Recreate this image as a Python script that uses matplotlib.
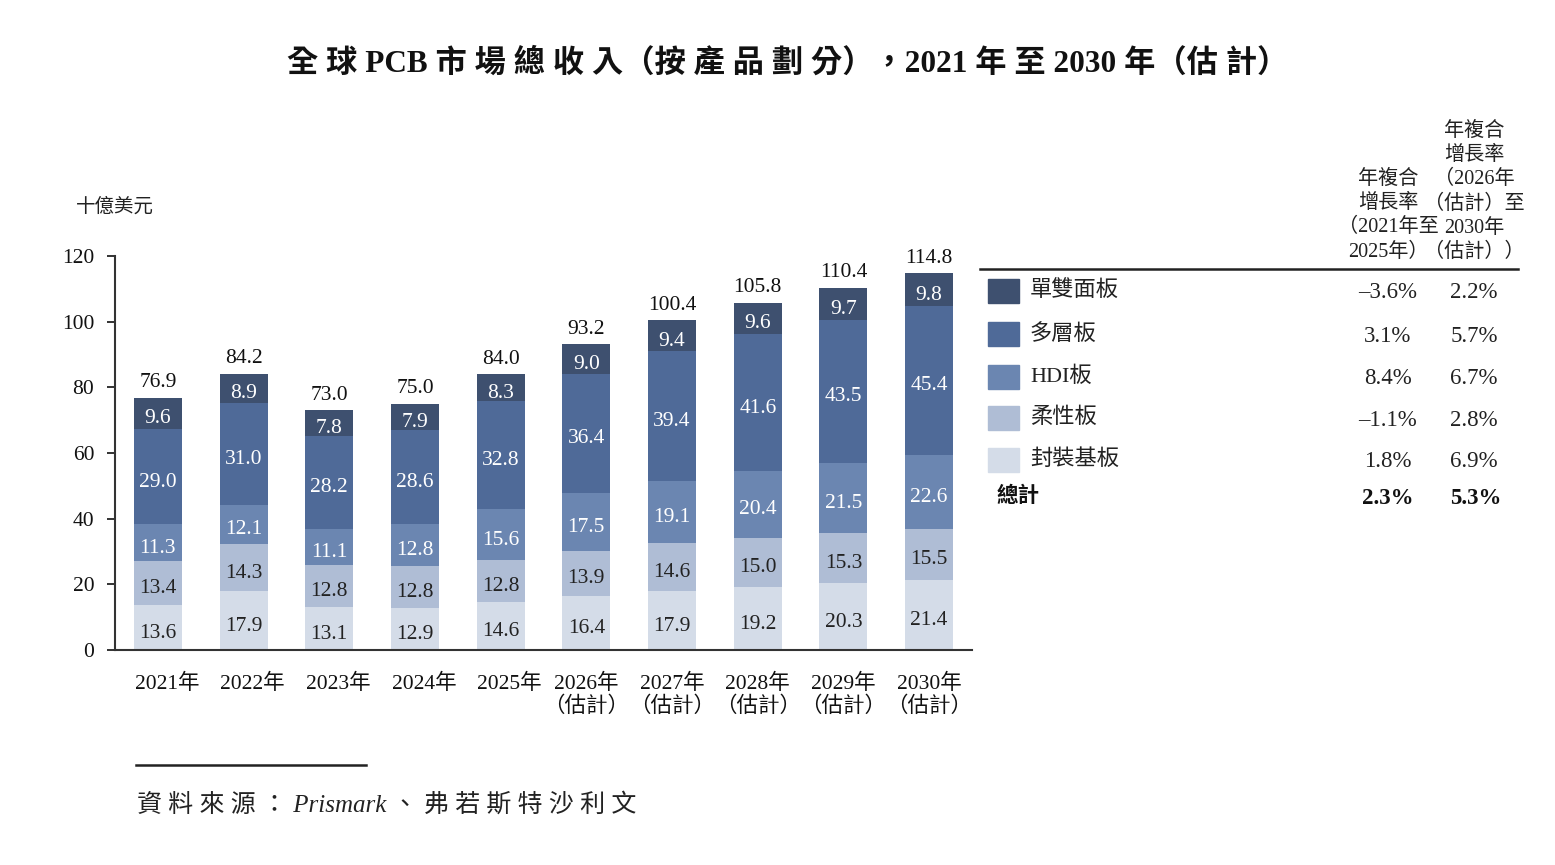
import matplotlib
matplotlib.use("Agg")
import matplotlib.pyplot as plt
import matplotlib.transforms as mtransforms
import numpy as np

years = ["2021年", "2022年", "2023年", "2024年", "2025年",
         "2026年\n（估計）", "2027年\n（估計）", "2028年\n（估計）", "2029年\n（估計）", "2030年\n（估計）"]
series_names = ["封裝基板", "柔性板", "HDI板", "多層板", "單雙面板"]
package = [13.6, 17.9, 13.1, 12.9, 14.6, 16.4, 17.9, 19.2, 20.3, 21.4]
flex = [13.4, 14.3, 12.8, 12.8, 12.8, 13.9, 14.6, 15.0, 15.3, 15.5]
hdi = [11.3, 12.1, 11.1, 12.8, 15.6, 17.5, 19.1, 20.4, 21.5, 22.6]
multilayer = [29.0, 31.0, 28.2, 28.6, 32.8, 36.4, 39.4, 41.6, 43.5, 45.4]
single_double = [9.6, 8.9, 7.8, 7.9, 8.3, 9.0, 9.4, 9.6, 9.7, 9.8]
totals = [76.9, 84.2, 73.0, 75.0, 84.0, 93.2, 100.4, 105.8, 110.4, 114.8]

legend_names = ["單雙面板", "多層板", "HDI板", "柔性板", "封裝基板"]
cagr_2125 = ["–3.6%", "3.1%", "8.4%", "–1.1%", "1.8%"]
cagr_2630 = ["2.2%", "5.7%", "6.7%", "2.8%", "6.9%"]
total_cagr = ["2.3%", "5.3%"]

colors = {"單雙面板": "#3e506f", "多層板": "#4f6a98", "HDI板": "#6b86b1",
          "柔性板": "#afbdd5", "封裝基板": "#d4dce8"}
label_colors = {"單雙面板": "white", "多層板": "white", "HDI板": "white",
                "柔性板": "#222222", "封裝基板": "#222222"}

FAM = ["Liberation Serif", "Noto Sans CJK TC"]
plt.rcParams["font.family"] = FAM

W, H = 1555, 865
fig = plt.figure(figsize=(W / 100, H / 100), dpi=100)

def P(x, y):
    return x / W, 1 - y / H

ax = fig.add_axes([115 / W, 1 - 650 / H, (972 - 115) / W, (650 - 256) / H])
x = np.arange(len(years))
bw = 0.56
series = [package, flex, hdi, multilayer, single_double]
bottom = np.zeros(len(years))
for name, vals in zip(series_names, series):
    vals = np.array(vals)
    ax.bar(x, vals, bw, bottom=bottom, color=colors[name], edgecolor="none")
    for xi, b, v in zip(x, bottom, vals):
        ax.text(xi, b + v / 2 - 1.7, f"{v:.1f}", ha="center", va="center",
                fontsize=15.5, color=label_colors[name])
    bottom = bottom + vals
for xi, t in zip(x, totals):
    ax.text(xi, t + 1.6, f"{t:.1f}", ha="center", va="bottom", fontsize=15.5, color="#111111")

ax.set_xlim(-0.5, len(years) - 0.5)
ax.set_ylim(0, 120)
ax.set_yticks(range(0, 121, 20))
ax.set_xticks(x)
ax.set_xticklabels(years, fontsize=15.5, linespacing=1.15)
ax.tick_params(axis="x", length=0, pad=17, colors="#111111")
ax.tick_params(axis="y", length=6, width=1.2, pad=9, labelsize=15.5, colors="#111111")
for lab in ax.get_yticklabels():
    lab.set_horizontalalignment("right")
shift = mtransforms.ScaledTranslation(9 / 100, 0, fig.dpi_scale_trans)
for lab in ax.get_xticklabels()[:5]:
    lab.set_transform(lab.get_transform() + shift)
for s in ["top", "right"]:
    ax.spines[s].set_visible(False)
for s in ["left", "bottom"]:
    ax.spines[s].set_linewidth(1.5)
    ax.spines[s].set_color("#333333")

# y unit label
fig.text(*P(76, 207), "十億美元", fontsize=14, ha="left", va="center", color="#222222")

# title
fig.text(*P(788, 63), "全 球 PCB 市 場 總 收 入（按 產 品 劃 分），2021 年 至 2030 年（估 計）",
         fontsize=22.5, fontweight="bold", ha="center", va="center", color="#111111")

# table header
col1 = ["年複合", "增長率", "（2021年至", "2025年）"]
col2 = ["年複合", "增長率", "（2026年", "（估計）至", "2030年", "（估計））"]
for i, t in enumerate(col1):
    fig.text(*P(1388, 179 + 24.3 * i), t, fontsize=14.5, ha="center", va="center", color="#222222")
for i, t in enumerate(col2):
    fig.text(*P(1474, 131 + 24.3 * i), t, fontsize=14.5, ha="center", va="center", color="#222222")
fig.add_artist(plt.Line2D([980 / W, 1518 / W], [1 - 269 / H, 1 - 269 / H],
                          color="#222222", lw=1.8, transform=fig.transFigure))

row_y = [291, 334, 377, 418, 460]
for name, y, c1, c2 in zip(legend_names, row_y, cagr_2125, cagr_2630):
    fig.add_artist(plt.Rectangle(P(988, y + 12), 31 / W, 24 / H, color=colors[name],
                                 transform=fig.transFigure))
    fig.text(*P(1030, y), name, fontsize=16, ha="left", va="center", color="#222222")
    fig.text(*P(1388, y + 2), c1, fontsize=16.5, ha="center", va="center", color="#222222")
    fig.text(*P(1474, y + 2), c2, fontsize=16.5, ha="center", va="center", color="#222222")
fig.text(*P(997, 497), "總計", fontsize=15.5, fontweight="bold", ha="left", va="center", color="#111111")
fig.text(*P(1388, 499), total_cagr[0], fontsize=16.5, fontweight="bold", ha="center", va="center", color="#111111")
fig.text(*P(1476, 499), total_cagr[1], fontsize=16.5, fontweight="bold", ha="center", va="center", color="#111111")

# source
fig.add_artist(plt.Line2D([136 / W, 366 / W], [1 - 765 / H, 1 - 765 / H],
                          color="#222222", lw=1.8, transform=fig.transFigure))
fig.text(*P(137, 805), "資 料 來 源 ： Prismark 、 弗 若 斯 特 沙 利 文", fontsize=18, style="italic",
         ha="left", va="center", color="#222222")

fig.savefig("out.png", dpi=100)
